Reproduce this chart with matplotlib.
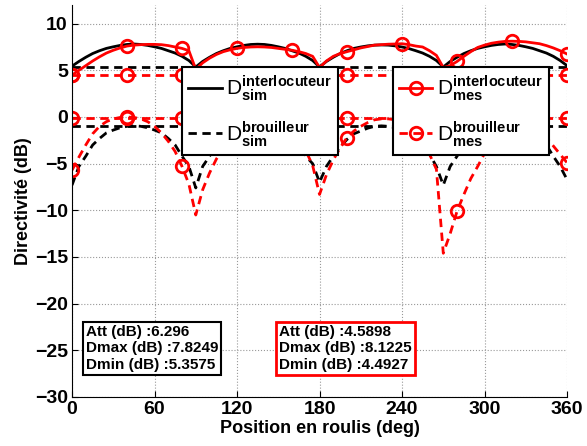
import matplotlib
matplotlib.use("Agg")
import matplotlib.pyplot as plt
import numpy as np

plt.rcParams['font.family'] = ['Liberation Sans', 'DejaVu Sans']
plt.rcParams['font.weight'] = 'bold'
plt.rcParams['axes.labelweight'] = 'bold'
plt.rcParams['mathtext.fontset'] = 'custom'
plt.rcParams['mathtext.rm'] = 'Liberation Sans:normal'
plt.rcParams['mathtext.bf'] = 'Liberation Sans:bold'

# position en roulis (deg), pas de 5 deg
angles = np.arange(0, 361, 5)

# directivite simulee (dB)
sim_interloc = [5.45, 5.95, 6.4, 6.8, 7.1, 7.35, 7.52, 7.67, 7.77, 7.82, 7.77, 7.67, 7.52, 7.35, 7.1, 6.85, 6.5, 6.05, 5.36,
                5.95, 6.4, 6.8, 7.1, 7.35, 7.52, 7.67, 7.77, 7.8, 7.77, 7.67, 7.52, 7.35, 7.1, 6.85, 6.5, 6.05, 5.36,
                5.95, 6.4, 6.8, 7.1, 7.35, 7.5, 7.62, 7.7, 7.72, 7.7, 7.62, 7.5, 7.33, 7.1, 6.85, 6.5, 6.05, 5.36,
                5.95, 6.4, 6.8, 7.1, 7.35, 7.52, 7.67, 7.77, 7.82, 7.77, 7.67, 7.52, 7.35, 7.1, 6.85, 6.5, 6.05, 5.5]
sim_brouill = [-7.3, -5.3, -4.2, -3.0, -2.3, -1.7, -1.4, -1.15, -1.0, -0.94, -1.0, -1.15, -1.4, -1.7, -2.3, -3.0, -4.2, -5.3, -7.6,
               -5.3, -4.2, -3.0, -2.3, -1.7, -1.4, -1.15, -1.0, -0.95, -1.0, -1.15, -1.4, -1.7, -2.3, -3.0, -4.2, -5.0, -7.0,
               -5.3, -4.2, -3.2, -2.4, -1.8, -1.5, -1.2, -1.0, -0.95, -1.0, -1.15, -1.4, -1.7, -2.3, -3.0, -4.0, -5.3, -7.3,
               -5.3, -4.2, -3.0, -2.3, -1.7, -1.4, -1.15, -1.0, -0.95, -1.0, -1.15, -1.4, -1.8, -2.4, -3.0, -4.2, -5.3, -6.7]

# directivite mesuree (dB)
mes_interloc = [4.49, 5.0, 5.5, 6.0, 6.45, 6.85, 7.15, 7.4, 7.6, 7.7, 7.75, 7.78, 7.78, 7.75, 7.65, 7.5, 7.35, 7.1, 5.1,
                5.8, 6.3, 6.7, 7.0, 7.2, 7.35, 7.45, 7.5, 7.52, 7.5, 7.45, 7.35, 7.25, 7.15, 7.0, 6.8, 6.5, 5.3,
                6.0, 6.5, 6.8, 7.0, 7.2, 7.4, 7.55, 7.7, 7.75, 7.8, 7.82, 7.85, 7.75, 7.6, 7.5, 7.1, 6.6, 5.3,
                5.5, 5.95, 6.5, 7.0, 7.45, 7.7, 7.9, 8.02, 8.1, 8.12, 8.1, 8.05, 7.95, 7.85, 7.65, 7.4, 7.1, 6.75]
mes_brouill = [-5.7, -4.3, -3.0, -1.8, -1.0, -0.5, -0.2, -0.05, 0.0, -0.05, -0.2, -0.5, -1.0, -1.7, -2.6, -3.7, -5.3, -7.2, -10.5,
               -7.8, -6.0, -4.5, -3.4, -2.5, -1.7, -1.1, -0.7, -0.5, -0.5, -0.7, -1.0, -1.5, -2.1, -2.8, -3.6, -5.2, -8.3,
               -6.2, -4.6, -3.3, -2.2, -1.5, -1.0, -0.6, -0.3, -0.2, -0.2, -0.3, -0.5, -0.9, -1.6, -2.6, -4.0, -5.6, -14.6,
               -12.5, -10.1, -8.3, -6.6, -5.3, -3.9, -2.8, -1.8, -1.0, -0.4, -0.3, -0.5, -0.9, -1.5, -2.2, -3.1, -4.0, -4.9]

# resultats
att_sim, dmax_sim, dmin_sim = 6.296, 7.8249, 5.3575
att_mes, dmax_mes, dmin_mes = 4.5898, 8.1225, 4.4927

fig = plt.figure(figsize=(5.87, 4.46), dpi=100)
ax = fig.add_axes([0.1227, 0.1099, 0.8433, 0.8789])

lw = 2.0
ax.plot(angles, np.full(len(angles), dmin_sim), color='black', lw=lw, dashes=(3, 2))
ax.plot(angles, np.full(len(angles), dmin_sim - att_sim), color='black', lw=lw, dashes=(3, 2))
l1, = ax.plot(angles, sim_interloc, color='black', lw=lw)
l2, = ax.plot(angles, sim_brouill, color='black', lw=lw, dashes=(3, 2))

mk = dict(marker='o', ms=9, mfc='none', mew=2, markevery=8)
ax.plot(angles, np.full(len(angles), dmin_mes), color='red', lw=lw, dashes=(3, 2), **mk)
ax.plot(angles, np.full(len(angles), dmin_mes - att_mes), color='red', lw=lw, dashes=(3, 2), **mk)
l3, = ax.plot(angles, mes_interloc, color='red', lw=lw, **mk)
l4, = ax.plot(angles, mes_brouill, color='red', lw=lw, dashes=(3, 2), **mk)

ax.set_xlim(0, 360)
ax.set_ylim(-30, 12)
ax.set_xticks(range(0, 361, 60))
ax.set_yticks(range(-30, 11, 5))
ax.tick_params(direction='in', length=4, labelsize=14, pad=3)
for lab in ax.get_xticklabels() + ax.get_yticklabels():
    lab.set_fontweight('bold')
ax.spines['top'].set_visible(False)
ax.spines['right'].set_visible(False)
ax.grid(True, linestyle=':', color='#999999', lw=0.8)
ax.set_xlabel('Position en roulis (deg)', fontsize=13, fontweight='bold', labelpad=1)
ax.set_ylabel('Directivité (dB)', fontsize=13, fontweight='bold', labelpad=2)

leg_kw = dict(fontsize=15, frameon=True, fancybox=False, framealpha=1, edgecolor='black',
              handlelength=1.6, handletextpad=0.2, labelspacing=0.75, borderpad=0.3,
              borderaxespad=0, loc='lower left')
leg1 = ax.legend([l1, l2], [r'$\mathrm{D}_{\mathbf{sim}}^{\mathbf{interlocuteur}}$',
                            r'$\mathrm{D}_{\mathbf{sim}}^{\mathbf{brouilleur}}$'],
                 bbox_to_anchor=(0.222, 0.617), **leg_kw)
leg1.get_frame().set_linewidth(1.5)
ax.add_artist(leg1)
leg2 = ax.legend([l3, l4], [r'$\mathrm{D}_{\mathbf{mes}}^{\mathbf{interlocuteur}}$',
                            r'$\mathrm{D}_{\mathbf{mes}}^{\mathbf{brouilleur}}$'],
                 bbox_to_anchor=(0.648, 0.617), **leg_kw)
leg2.get_frame().set_linewidth(1.5)

txt_sim = 'Att (dB) :%s\nDmax (dB) :%s\nDmin (dB) :%s' % (att_sim, dmax_sim, dmin_sim)
txt_mes = 'Att (dB) :%s\nDmax (dB) :%s\nDmin (dB) :%s' % (att_mes, dmax_mes, dmin_mes)
ax.text(10, -24.8, txt_sim, fontsize=11, fontweight='bold', ha='left', va='center',
        bbox=dict(boxstyle='square,pad=0.2', fc='white', ec='black', lw=1.5))
ax.text(150.5, -24.8, txt_mes, fontsize=11, fontweight='bold', ha='left', va='center',
        bbox=dict(boxstyle='square,pad=0.2', fc='white', ec='red', lw=2))

fig.savefig('out.png', dpi=100)
